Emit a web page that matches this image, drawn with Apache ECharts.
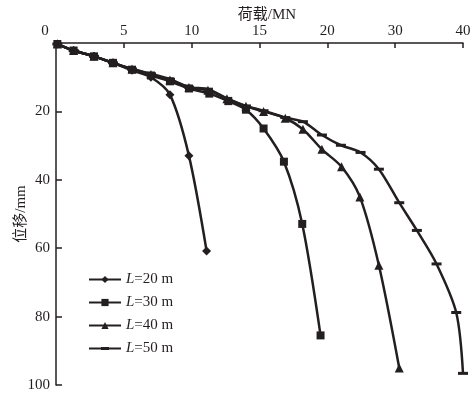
<!DOCTYPE html>
<html>
<head>
<meta charset="utf-8">
<script src="https://cdn.jsdelivr.net/npm/echarts@6/dist/echarts.min.js"></script>
<style>
  html, body { margin: 0; padding: 0; background: #fff; }
  #chart { width: 476px; height: 397px; }
</style>
</head>
<body>
<div id="chart"></div>
<script>
// x values are in plotted axis units (0-30); tick labels below relabel them as in the figure
const xTickLabels = ['0', '5', '10', '15', '20', '30', '40'];
const seriesNames = ['L=20 m', 'L=30 m', 'L=40 m', 'L=50 m'];

const load20 = [0.1, 1.3, 2.8, 4.2, 5.6, 7.0, 8.4, 9.8, 11.1];
const disp20 = [0.3, 2.2, 3.9, 5.8, 8.0, 10.0, 15.1, 33.0, 60.8];

const load30 = [0.1, 1.3, 2.8, 4.2, 5.6, 7.0, 8.4, 9.8, 11.3, 12.7, 14.0, 15.3, 16.8, 18.15, 19.5];
const disp30 = [0.3, 2.2, 3.9, 5.8, 7.8, 9.5, 11.2, 13.3, 14.8, 17.0, 19.5, 25.0, 34.7, 52.9, 85.5];

const load40 = [0.1, 1.3, 2.8, 4.2, 5.6, 7.0, 8.4, 9.8, 11.2, 12.6, 14.0, 15.3, 16.9, 18.2, 19.6, 21.05, 22.4, 23.8, 25.3];
const disp40 = [0.3, 2.2, 3.9, 5.8, 7.6, 9.2, 10.8, 13.0, 13.8, 16.3, 18.5, 20.0, 22.0, 25.2, 31.1, 36.2, 45.0, 65.0, 95.0];

const load50 = [0.1, 1.3, 2.8, 4.2, 5.6, 7.0, 8.4, 9.8, 11.2, 12.6, 14.0, 15.3, 16.9, 18.2, 19.6, 21.0, 22.45, 23.8, 25.3, 26.6, 28.05, 29.5, 30.0];
const disp50 = [0.3, 2.2, 3.9, 5.8, 7.6, 9.0, 10.6, 12.9, 13.5, 16.2, 18.4, 19.8, 21.8, 23.0, 26.9, 29.9, 32.0, 36.9, 46.7, 54.8, 64.6, 78.8, 96.6];

const chart = echarts.init(document.getElementById('chart'));
const ink = '#231f20';
const serif = '"Liberation Serif", "Noto Sans CJK SC", serif';

function pairs(xs, ys) {
    return xs.map((x, i) => [x, ys[i]]);
}

function makeSeries(name, xs, ys, symbol, size) {
    return {
        name: name,
        type: 'line',
        smooth: 0.3,
        symbol: symbol,
        symbolSize: size,
        showAllSymbol: true,
        lineStyle: { color: ink, width: 2.5 },
        itemStyle: { color: ink },
        data: pairs(xs, ys)
    };
}

const option = {
    animation: false,
    textStyle: { fontFamily: serif },
    grid: { left: 56, right: 13, top: 43, bottom: 12, containLabel: false, outerBoundsMode: 'none' },
    legend: {
        orient: 'vertical',
        left: 83,
        top: 267,
        itemWidth: 32,
        itemHeight: 9,
        itemGap: 8,
        data: [
            { name: seriesNames[0] },
            { name: seriesNames[1] },
            { name: seriesNames[2] },
            // line with a short thick dash in the middle
            { name: seriesNames[3], icon: 'path://M0,3.5 L32,3.5 L32,5.5 L0,5.5 Z M12,3 L20,3 L20,6 L12,6 Z' }
        ],
        formatter: (name) => '{i|L}{n|' + name.slice(1) + '}',
        textStyle: {
            color: ink,
            fontFamily: serif,
            fontSize: 15,
            rich: {
                i: { fontStyle: 'italic', fontFamily: serif, fontSize: 15, color: ink },
                n: { fontFamily: serif, fontSize: 15, color: ink }
            }
        }
    },
    xAxis: {
        type: 'value',
        position: 'top',
        min: 0,
        max: 30,
        interval: 5,
        name: '荷载/MN',
        nameLocation: 'middle',
        nameGap: 20,
        nameMoveOverlap: false,
        nameTextStyle: { color: ink, fontSize: 15, fontFamily: serif, padding: [0, 0, 0, 15] },
        axisLine: { lineStyle: { color: ink, width: 1.5 } },
        axisTick: { inside: true, length: 5, lineStyle: { color: ink, width: 1.5 } },
        axisLabel: {
            color: ink,
            fontSize: 15,
            fontFamily: serif,
            margin: 4,
            formatter: (v) => v === 0 ? '{z|0}' : xTickLabels[Math.round(v / 5)],
            rich: { z: { fontSize: 15, fontFamily: serif, color: ink, padding: [0, 22, 0, 0] } }
        },
        splitLine: { show: false }
    },
    yAxis: {
        type: 'value',
        inverse: true,
        min: 0,
        max: 100,
        interval: 20,
        name: '位移/mm',
        nameLocation: 'middle',
        nameGap: 27,
        nameMoveOverlap: false,
        nameTextStyle: { color: ink, fontSize: 15, fontFamily: serif },
        axisLine: { show: true, lineStyle: { color: ink, width: 1.5 } },
        axisTick: { show: true, inside: true, length: 6, lineStyle: { color: ink, width: 1.5 } },
        axisLabel: { color: ink, fontSize: 15, fontFamily: serif, margin: 6, showMinLabel: false },
        splitLine: { show: false }
    },
    series: [
        makeSeries(seriesNames[0], load20, disp20, 'diamond', 9),
        makeSeries(seriesNames[1], load30, disp30, 'rect', 8),
        makeSeries(seriesNames[2], load40, disp40, 'triangle', 9),
        makeSeries(seriesNames[3], load50, disp50, 'rect', [10, 3])
    ]
};

chart.setOption(option);
</script>
</body>
</html>
